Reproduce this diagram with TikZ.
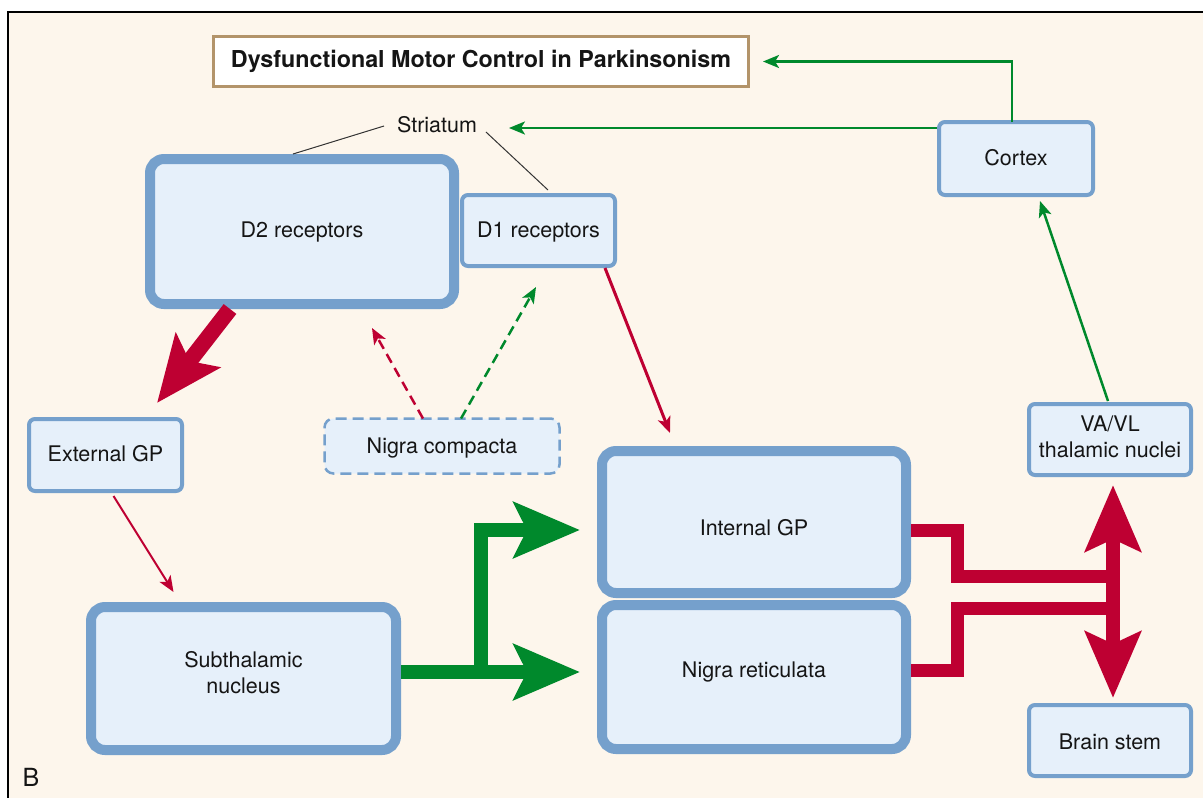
\documentclass[tikz,border=0pt]{standalone}
\usepackage{fontspec}
\setmainfont{TeX Gyre Heros}
\usetikzlibrary{arrows.meta,calc}
\definecolor{cream}{HTML}{FDF6EC}
\definecolor{boxfill}{HTML}{E6F0FA}
\definecolor{boxline}{HTML}{75A0CC}
\definecolor{pdred}{HTML}{BE0032}
\definecolor{pdgreen}{HTML}{00892C}
\definecolor{titleline}{HTML}{B3946A}
\definecolor{ink}{HTML}{151515}
\begin{document}
\begin{tikzpicture}[x=1pt,y=-1pt,
  every node/.style={font=\fontsize{21.5}{26.5}\selectfont, text=ink, align=center, outer sep=0pt, inner sep=0pt},
  thinbox/.style={draw=boxline, fill=boxfill, line width=4pt, rounded corners=6pt, text depth=0pt},
  thickbox/.style={draw=boxline, fill=boxfill, line width=10pt, rounded corners=14pt, text depth=0pt},
  dashbox/.style={draw=boxline, fill=boxfill, line width=2.5pt, rounded corners=9pt, dash pattern=on 11pt off 6pt, text depth=0pt},
  titlebox/.style={draw=titleline, fill=white, line width=3pt, font=\fontsize{23.3}{28}\selectfont\bfseries},
  leader/.style={draw=black!80, line width=1pt},
  bigtip/.style={-{Stealth[length=66pt,width=55pt,inset=13pt]}},
  smalltip/.style={-{Stealth[length=16pt,width=13pt,inset=4pt]}},
  redbig/.style={draw=pdred, line width=16pt, bigtip},
  greenbig/.style={draw=pdgreen, line width=14pt, bigtip},
  redbar/.style={draw=pdred, line width=13pt},
  redthin/.style={draw=pdred, line width=2pt, smalltip},
  greenthin/.style={draw=pdgreen, line width=2.5pt, smalltip},
  reddash/.style={draw=pdred, line width=2.5pt, dash pattern=on 10pt off 6pt, smalltip},
  greendash/.style={draw=pdgreen, line width=2.5pt, dash pattern=on 10pt off 6pt, smalltip}
]
\useasboundingbox (0,0) rectangle (1203,798);
\fill[white] (0,0) rectangle (1203,798);
\fill[cream] (8,12) rectangle (1203,798);
\draw[black, line width=1.5pt] (8,798) -- (8,12) -- (1203,12);

% nodes
\node[titlebox, minimum width=535pt, minimum height=50pt] (title) at (481,61.5) {Dysfunctional Motor Control in Parkinsonism};
\node (str) at (437,125) {Striatum};
\node[thickbox, minimum width=304pt, minimum height=145pt, text height=12pt] (d2) at (302,231.5) {D2 receptors};
\node[thinbox, minimum width=153pt, minimum height=71pt, text height=14pt] (d1) at (538.5,230.5) {D1 receptors};
\node[thinbox, minimum width=154pt, minimum height=73pt, text height=13pt] (ctx) at (1016,158.5) {Cortex};
\node[thinbox, minimum width=162pt, minimum height=71pt, text height=36pt] (vavl) at (1110,439.5) {VA/VL\\thalamic nuclei};
\node[thinbox, minimum width=153pt, minimum height=72pt, text height=12pt] (egp) at (105.5,455) {External GP};
\node[dashbox, minimum width=235pt, minimum height=55pt, text height=14pt] (nc) at (442,446) {Nigra compacta};
\node[thickbox, minimum width=304pt, minimum height=142pt, text height=26pt] (igp) at (754,522) {Internal GP};
\node[thickbox, minimum width=304pt, minimum height=144pt, text height=0pt] (ngr) at (754,677) {Nigra reticulata};
\node[thickbox, minimum width=305pt, minimum height=143pt, text height=30pt] (stn) at (243.5,678.5) {Subthalamic\\nucleus};
\node[thinbox, minimum width=162pt, minimum height=71pt, text height=17pt] (bs) at (1110,740.5) {Brain stem};
\node[font=\fontsize{25}{30}\selectfont] (lbl) at (31,777) {B};

% striatum leaders
\draw[leader] ($(d2.north)+(-9,-5)$) -- ($(str.west)+(-13,1)$);
\draw[leader] ($(str.east)+(9,7)$) -- ($(d1.north)+(9.5,-5)$);

% connectors
\draw[redbig] ($(d2.south)+(-72,5)$) -- ($(egp.north)+(51.5,-16)$);
\draw[redthin] ($(egp.south)+(8,5)$) -- ($(stn.north)+(-70,-15)$);
\draw[redthin, line width=3pt] ($(d1.south)+(66.5,2)$) -- ($(igp.north)+(-84,-18)$);
\draw[reddash] ($(nc.north)+(-19,0)$) -- ($(d2.south)+(70,24)$);
\draw[greendash] ($(nc.north)+(19,0)$) -- ($(d1.south)+(-2.5,21)$);

\draw[greenbig] ($(stn.east)+(5,-6.5)$) -- ($(ngr.west)+(-22,-5)$);
\draw[greenbig] ($(stn.east)+(85,0)$) |- ($(igp.west)+(-22,8)$);

\draw[redbar] ($(igp.east)+(5,8)$) -- ++(46.5,0) |- ($(vavl.south)+(3,101)$);
\draw[redbar] ($(ngr.east)+(5,-6.5)$) -- ++(46.5,0) |- ($(vavl.south)+(3,133.5)$);
\draw[draw=pdred, line width=14pt, {Stealth[length=66pt,width=55pt,inset=12pt]}-{Stealth[length=66pt,width=55pt,inset=12pt]}] ($(vavl.south)+(3,10)$) -- ($(bs.north)+(3,-7)$);

\draw[greenthin] ($(vavl.north)+(-2,-3)$) -- ($(ctx.south)+(24,6)$);
\draw[greenthin] ($(ctx.north)+(-4,0)$) |- ($(title.east)+(14.5,0)$);
\coordinate (ctxout) at ($(ctx.west)+(-2,-30.5)$);
\coordinate (strtip) at ($(str.east)+(32,0)$);
\draw[greenthin] (ctxout) -- (ctxout -| strtip);
\end{tikzpicture}
\end{document}
